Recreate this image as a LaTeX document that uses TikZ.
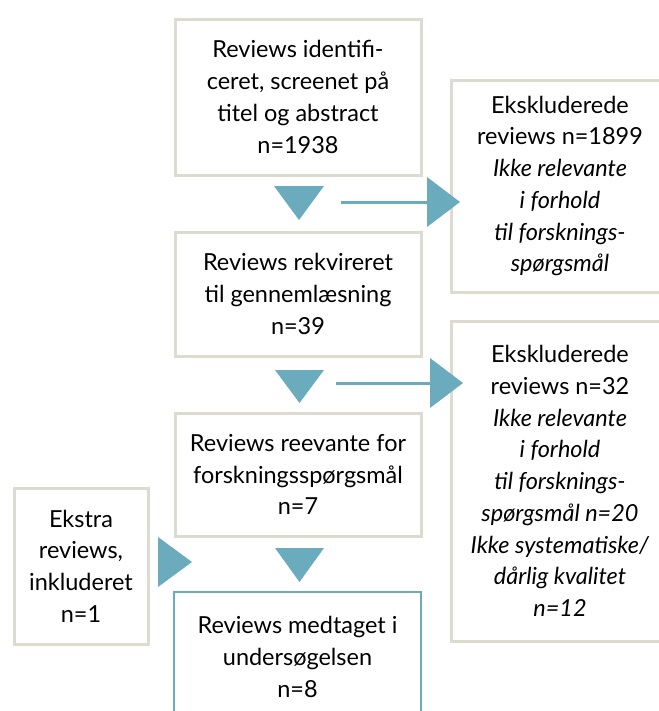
\documentclass[tikz,border=0pt]{standalone}
\usepackage{fontspec}
\setmainfont{Lato}
\definecolor{boxgray}{HTML}{DDDAD0}
\definecolor{arrowblue}{HTML}{6AABBD}
\newcommand{\px}{0.75pt}

\begin{document}
\begin{tikzpicture}[x=\px, y=-\px,
    box/.style={draw=boxgray, line width=3*\px, rectangle, anchor=north west, inner sep=0pt, align=center, font=\fontsize{17.6}{23.8}\selectfont},
    tri/.style={fill=arrowblue},
    link/.style={draw=arrowblue, line width=3*\px}]
    \useasboundingbox (0,0) rectangle (659,711);

    % Main column
    \node[box, minimum width=246*\px, minimum height=156*\px] (identified) at (173.5,17.5) {Reviews identifi-\\ceret, screenet på\\titel og abstract\\n=1938};
    \node[box, minimum width=246*\px, minimum height=124*\px] (requested) at (173.5,230.5) {Reviews rekvireret\\til gennemlæsning\\n=39};
    \node[box, minimum width=246*\px, minimum height=123*\px] (relevant) at (173.5,411.5) {Reviews reevante for\\forskningsspørgsmål\\n=7};
    \node[box, draw=arrowblue, line width=2*\px, minimum width=247*\px, minimum height=130*\px] (included) at (173,591) {Reviews medtaget i\\undersøgelsen\\n=8};

    % Side boxes
    \node[box, minimum width=218*\px, minimum height=212*\px] (excluded-1) at (449.5,78.5) {Ekskluderede\\reviews n=1899\\\textit{Ikke relevante}\\\textit{i forhold}\\\textit{til forsknings-}\\\textit{spørgsmål}};
    \node[box, minimum width=218*\px, minimum height=320*\px] (excluded-2) at (449.5,319.5) {Ekskluderede\\reviews n=32\\\textit{Ikke relevante}\\\textit{i forhold}\\\textit{til forsknings-}\\\textit{spørgsmål n=20}\\\textit{Ikke systematiske/}\\\textit{dårlig kvalitet}\\\textit{n=12}};
    \node[box, minimum width=134*\px, minimum height=156*\px] (extra) at (12.5,486.5) {Ekstra\\reviews,\\inkluderet\\n=1};

    % Down arrows
    \fill[tri] (274,186) -- (324,186) -- (299,220) -- cycle;
    \fill[tri] (275,370) -- (324,370) -- (299.5,403) -- cycle;
    \fill[tri] (275,548) -- (324,548) -- (299.5,582) -- cycle;

    % Side arrows
    \coordinate (cut-1) at (341,202);
    \coordinate (head-1) at (428,202);
    \draw[link] (cut-1) -- (head-1);
    \fill[tri] (427,177) -- (460,202) -- (427,227) -- cycle;

    \coordinate (cut-2) at (336,383);
    \coordinate (head-2) at (431,383);
    \draw[link] (cut-2) -- (head-2);
    \fill[tri] (430,358) -- (463,383) -- (430,408) -- cycle;

    \fill[tri] (158,537) -- (192,562) -- (158,587) -- cycle;

\end{tikzpicture}
\end{document}
